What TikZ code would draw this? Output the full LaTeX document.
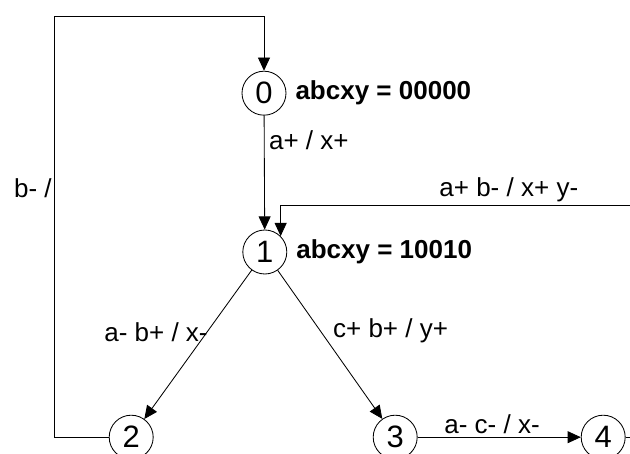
\documentclass[tikz,border=0pt]{standalone}
\usepackage{fontspec}
\setmainfont{Liberation Sans}
\usetikzlibrary{arrows.meta,positioning}

\begin{document}
\begin{tikzpicture}[>={Triangle[length=0.33cm,width=0.3cm]}, line width=0.6pt,
  font=\fontsize{18.5}{22}\selectfont,
  state/.style={circle, draw, minimum size=1.1cm, inner sep=0pt, font=\fontsize{22}{24}\selectfont}]
  \useasboundingbox (0,0) rectangle (15.75,-11.35);
  % 状态节点
  \node[state] (S0) at (6.6,-2.33) {0};
  \node[state] (S1) at (6.62,-6.3) {1};
  \node[state] (S2) at (3.28,-10.93) {2};
  \node[state] (S3) at (9.88,-10.93) {3};
  \node[state] (S4) at (15.08,-10.93) {4};
  \node[right=0.1cm of S0, font=\fontsize{18.5}{22}\selectfont\bfseries] (V0) {abcxy = 00000};
  \node[right=0.1cm of S1, font=\fontsize{18.5}{22}\selectfont\bfseries] (V1) {abcxy = 10010};

  % 转移标签
  \node[anchor=west] (T01) at (6.6,-3.5) {a+ / x+};
  \node[anchor=east] (T20) at (1.42,-4.7) {b- /};
  \node (TR1) at (12.72,-4.75) {a+ b- / x+ y-};
  \node (T12) at (3.9,-8.3) {a- b+ / x-};
  \node[anchor=west] (T13) at (8.2,-8.28) {c+ b+ / y+};
  \node (T34) at (12.3,-10.6) {a- c- / x-};

  % 辅助坐标
  \coordinate (L1) at (1.35,-10.93);
  \coordinate (L2) at (1.35,-0.4);
  \coordinate (L3) at (6.6,-0.4);
  \coordinate (R1) at (15.75,-5.13);
  \coordinate (R2) at (S1.north east |- R1);
  \coordinate (E4) at (15.75,-10.93);

  % 箭头
  \draw[->] (S0) -- (S1);
  \draw[->] (S1) -- (S2);
  \draw[->] (S1) -- (S3);
  \draw[->] (S3) -- (S4);
  \draw[->] (S2) -- (L1) -- (L2) -- (L3) -- (S0);
  \draw[->] (R1) -- (R2) -- (S1.north east);
  \draw (S4) -- (E4);
\end{tikzpicture}
\end{document}
